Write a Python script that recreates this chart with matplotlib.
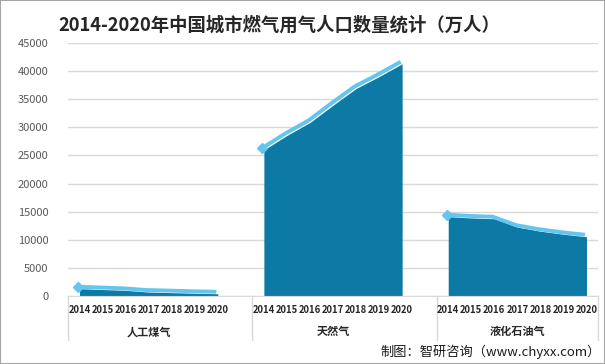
import matplotlib.pyplot as plt
import matplotlib.transforms as mtransforms
import numpy as np

plt.rcParams['font.family'] = ['Noto Sans CJK SC', 'DejaVu Sans']

years = ['2014', '2015', '2016', '2017', '2018', '2019', '2020']
categories = ['人工煤气', '天然气', '液化石油气']
coal_gas = [1300, 1150, 1000, 700, 600, 480, 400]
natural_gas = [25973, 28561, 30856, 33934, 36902, 39025, 41301]
lpg = [14108, 13881, 13744, 12251, 11523, 10983, 10536]
series = [coal_gas, natural_gas, lpg]

AREA = '#0d7aa5'
LINE = '#62c6ef'
GRID = '#d9d9d9'

fig = plt.figure(figsize=(6.05, 3.64), dpi=100)
ax = fig.add_axes([68 / 605, 1 - 296 / 364, 530 / 605, 253 / 364])

# 每组7年，组间空一格
group_step = len(years) + 1
shift = mtransforms.offset_copy(ax.transData, fig=fig, x=-1.5, y=2, units='dots')
for g, vals in enumerate(series):
    x = np.arange(len(years)) + g * group_step
    ax.fill_between(x, 0, vals, color=AREA, lw=0, zorder=2)
    ax.plot(x, vals, color=LINE, lw=2.8, solid_capstyle='butt', zorder=3,
            marker='D', markersize=5.5, markevery=[0], transform=shift)

ax.set_xlim(-0.5, 3 * group_step - 1.5)
ax.set_ylim(0, 45000)
ax.set_yticks(np.arange(0, 45001, 5000))
ax.yaxis.grid(True, color=GRID, lw=1)
ax.set_axisbelow(True)
for s in ['top', 'right', 'left']:
    ax.spines[s].set_visible(False)
ax.spines['bottom'].set_color(GRID)
ax.tick_params(axis='y', length=0, labelsize=8, labelcolor='#595959', pad=14)
ax.tick_params(axis='x', length=0)
ax.set_xticks([])

# 多级分类坐标轴
for b in [-0.5, group_step - 0.5, 2 * group_step - 0.5, 3 * group_step - 1.5]:
    ax.plot([b, b], [0, -0.175], color=GRID, lw=1, clip_on=False,
            transform=ax.get_xaxis_transform())
for g, cat in enumerate(categories):
    for i, yr in enumerate(years):
        ax.text(i + g * group_step, -0.055, yr, transform=ax.get_xaxis_transform(),
                ha='center', va='center', fontsize=6.8, fontweight='bold', color='#262626')
    ax.text(g * group_step + 3, -0.142, cat, transform=ax.get_xaxis_transform(),
            ha='center', va='center', fontsize=8, fontweight='bold', color='#262626')

fig.text(58 / 605, 1 - 25 / 364, '2014-2020年中国城市燃气用气人口数量统计（万人）',
         fontsize=13.2, fontweight='bold', color='#262626', va='center', ha='left')
fig.text(601 / 605, 1 - 352 / 364, '制图：智研咨询（www.chyxx.com）',
         fontsize=9.5, color='#1a1a1a', va='center', ha='right')

fig.patches.append(plt.Rectangle((0, 0), 1, 1, transform=fig.transFigure,
                                 fill=False, edgecolor='#a6a6a6', lw=1.5))

fig.savefig('out.png', dpi=100)
